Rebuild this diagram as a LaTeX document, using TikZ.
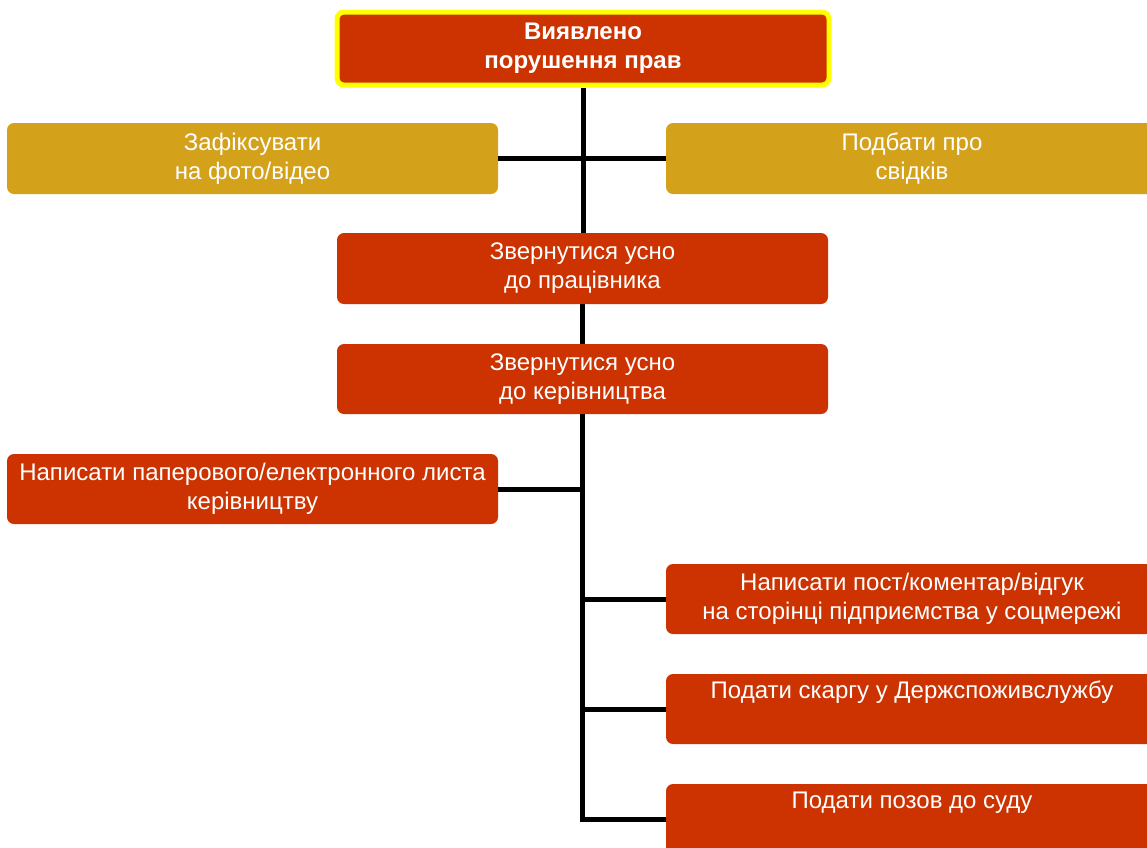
\documentclass[tikz,border=0pt]{standalone}
\usepackage{fontspec}
\setmainfont{Liberation Sans}
\definecolor{redfill}{RGB}{204,51,0}
\definecolor{goldfill}{RGB}{212,161,27}
\definecolor{hiyellow}{RGB}{255,255,0}
\tikzset{
  box/.style={rectangle, rounded corners=7pt, text=white, align=center,
    font=\fontsize{24}{29}\selectfont, inner sep=0pt},
  redbox/.style={box, fill=redfill},
  goldbox/.style={box, fill=goldfill},
  conn/.style={draw=black, line width=5pt},
}
\begin{document}
\begin{tikzpicture}[x=1pt,y=-1pt]
\useasboundingbox (0,0) rectangle (1147,847);
\clip (0,0) rectangle (1147,847);
\fill[white] (0,0) rectangle (1147,847);
% nodes
\node[redbox, draw=hiyellow, line width=5pt, minimum width=492pt, minimum height=73pt,
  font=\fontsize{24}{29}\selectfont\bfseries] (top) at (583,48.5) {Виявлено\\порушення прав};
\node[goldbox, minimum width=491pt, minimum height=71pt] (g1) at (252.5,158.5) {Зафіксувати\\на фото/відео};
\node[goldbox, minimum width=492pt, minimum height=71pt] (g2) at (912,158.5) {Подбати про\\свідків};
\node[redbox, minimum width=491pt, minimum height=71pt] (w1) at (582.5,268.5) {Звернутися усно\\до працівника};
\node[redbox, minimum width=491pt, minimum height=70pt] (w2) at (582.5,379) {Звернутися усно\\до керівництва};
\node[redbox, minimum width=491pt, minimum height=70pt] (lt) at (252.5,489) {Написати паперового/електронного листа\\керівництву};
\node[redbox, minimum width=492pt, minimum height=70pt] (r1) at (912,599) {Написати пост/коментар/відгук\\на сторінці підприємства у соцмережі};
\node[redbox, minimum width=492pt, minimum height=70pt] (r2) at (912,709) {Подати скаргу у Держспоживслужбу\\\strut};
\node[redbox, minimum width=492pt, minimum height=70pt] (r3) at (912,819) {Подати позов до суду\\\strut};
% connectors
\draw[conn] (top.south) -- (top.south |- w1.north);
\draw[conn] (g1.east) -- (g2.west);
\draw[conn] (w1.south) -- (w2.north);
\draw[conn] (w2.south) |- (r3.west);
\draw[conn] (lt.east) -- (lt.east -| w2.south);
\draw[conn] (r1.west) -- (r1.west -| w2.south);
\draw[conn] (r2.west) -- (r2.west -| w2.south);
\end{tikzpicture}
\end{document}
